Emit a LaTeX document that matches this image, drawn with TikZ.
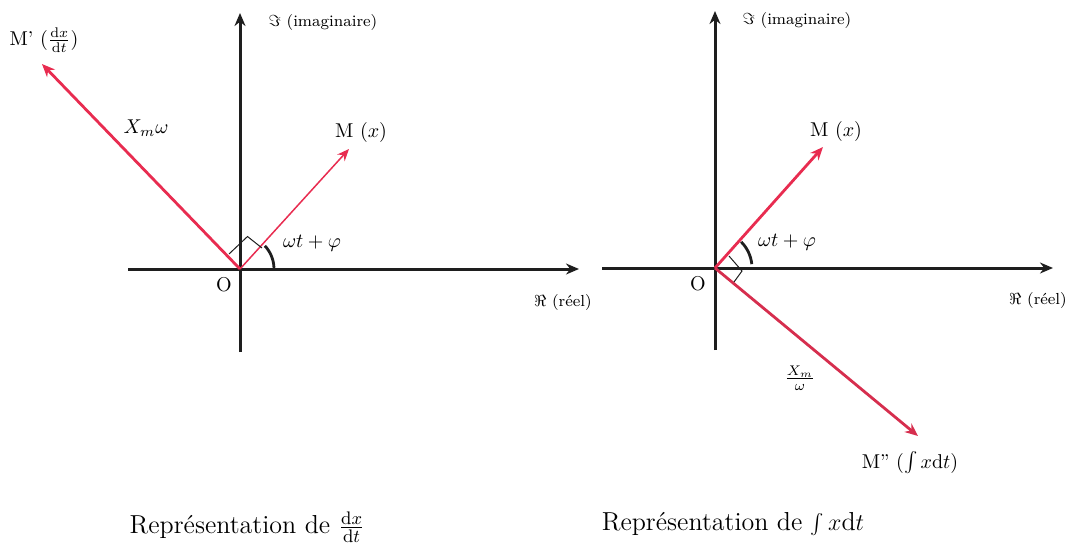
\documentclass[tikz,border=0pt]{standalone}
\usepackage{fontspec}
\usetikzlibrary{arrows.meta,calc}
\definecolor{vred}{RGB}{232,44,80}
\definecolor{vredd}{RGB}{214,46,78}
\definecolor{axc}{RGB}{30,30,30}
\begin{document}
\begin{tikzpicture}[x=0.5pt,y=-0.5pt,
  axis/.style={line width=1.5pt,axc,-{Stealth[length=6.5pt,width=5.5pt]}},
  vec/.style={line width=1.4pt,vred,-{Stealth[length=6.5pt,width=5.5pt]}},
  thinvec/.style={line width=0.75pt,vred,-{Stealth[length=6pt,width=5pt]}},
  rmark/.style={line width=0.5pt,axc},
  anglearc/.style={line width=1.4pt,axc},
  lbl/.style={inner sep=0pt,font=\fontsize{10}{12}\selectfont},
  smalllbl/.style={inner sep=0pt,font=\fontsize{8}{10}\selectfont},
  captxt/.style={inner sep=0pt,font=\fontsize{13}{15}\selectfont}]
\useasboundingbox (0,0) rectangle (1067,547);
% ---------- left diagram ----------
\coordinate (O1) at (240,269);
\coordinate (xl1) at (128,269);
\coordinate (xr1) at (579,269);
\coordinate (yb1) at (240,352);
\coordinate (yt1) at (240,13);
\coordinate (Mp) at (42,64);
\coordinate (M1) at (349,149);
\draw[axis] (xl1) -- (xr1);
\draw[axis] (yb1) -- (yt1);
\draw[vec] (O1) -- (Mp);
\draw[thinvec] (O1) -- (M1);
\draw[rmark] ($(O1)+(-11,-15)$) -- ($(O1)+(7.5,-32.5)$) -- ($(O1)+(22,-21)$);
\draw[anglearc] ($(O1)+(-2:34)$) arc[start angle=-2,end angle=-43,radius=34];
\node[lbl] (lMp) at (44,40) {M' $(\frac{\mathrm{d}x}{\mathrm{d}t})$};
\node[lbl] (lXw) at (146,128) {$X_m\omega$};
\node[lbl] (lM1) at (361,132) {M $(x)$};
\node[lbl] (lang1) at (312,243) {$\omega t+\varphi$};
\node[lbl] (lO1) at (224,285) {O};
\node[smalllbl] (lIm1) at (323,22) {$\Im$ (imaginaire)};
\node[smalllbl] (lRe1) at (563,302) {$\Re$ (réel)};
\node[captxt] (cap1) at (247,527) {Représentation de $\frac{\mathrm{d}x}{\mathrm{d}t}$};
% ---------- right diagram ----------
\coordinate (O2) at (715,268);
\coordinate (xl2) at (602,268);
\coordinate (xr2) at (1053,268);
\coordinate (yb2) at (715,350);
\coordinate (yt2) at (715,11);
\coordinate (M2) at (823,147);
\coordinate (Mpp) at (918,436);
\draw[axis] (xl2) -- (xr2);
\draw[axis] (yb2) -- (yt2);
\draw[vec] (O2) -- (M2);
\draw[vec,vredd] (O2) -- (Mpp);
\draw[rmark] ($(O2)+(14,-12)$) -- ($(O2)+(27,3)$) -- ($(O2)+(19,14)$);
\draw[anglearc] ($(O2)+(-6:37)$) arc[start angle=-6,end angle=-45,radius=37];
\node[lbl] (lM2) at (836,131) {M $(x)$};
\node[lbl] (lang2) at (787,242) {$\omega t+\varphi$};
\node[lbl] (lO2) at (698,284) {O};
\node[lbl] (lXo) at (800,378) {$\frac{X_m}{\omega}$};
\node[lbl] (lMpp) at (910,463) {M'' $(\int x\mathrm{d}t)$};
\node[smalllbl] (lIm2) at (797,20) {$\Im$ (imaginaire)};
\node[smalllbl] (lRe2) at (1038,300) {$\Re$ (réel)};
\node[captxt] (cap2) at (733,524) {Représentation de $\int x\mathrm{d}t$};
\end{tikzpicture}
\end{document}
